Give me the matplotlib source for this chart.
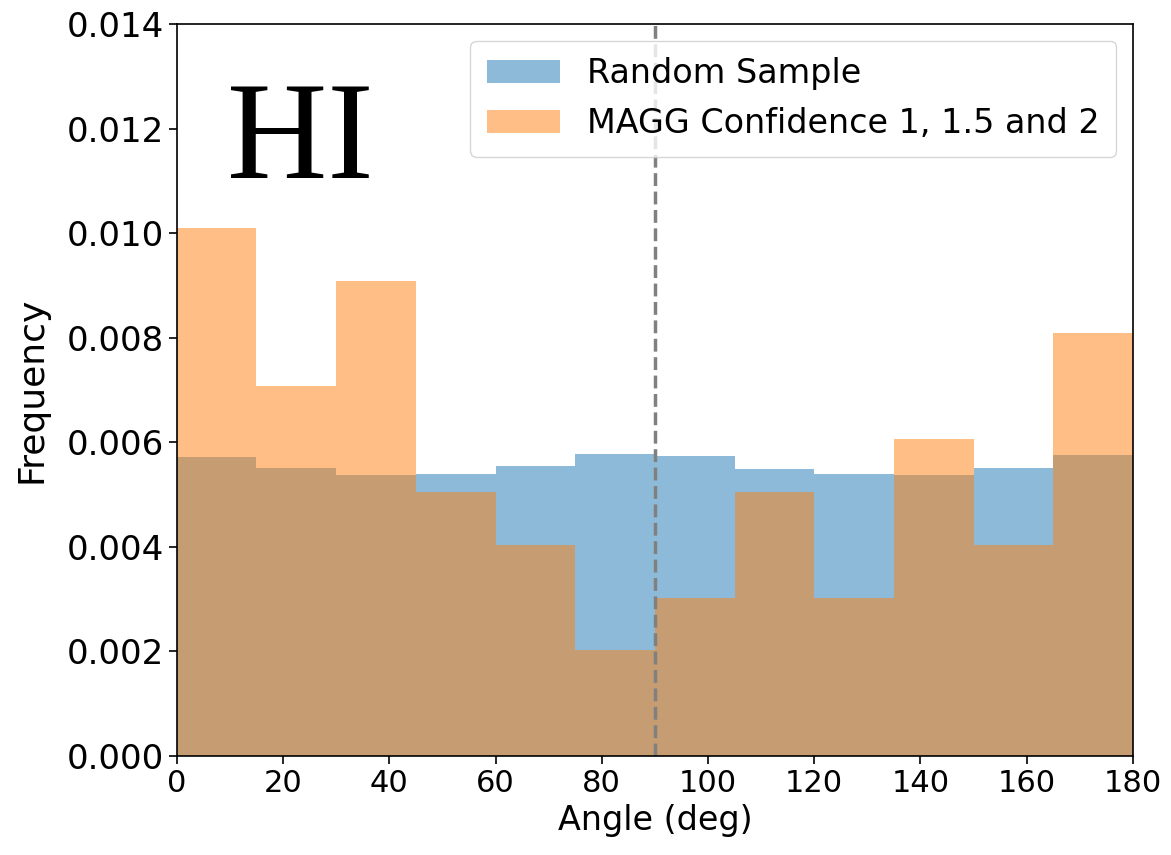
import matplotlib
matplotlib.use("Agg")
import matplotlib.pyplot as plt
import numpy as np

bin_edges = [0, 15, 30, 45, 60, 75, 90, 105, 120, 135, 150, 165, 180]
random_sample = [0.00571, 0.00551, 0.00538, 0.00540, 0.00555, 0.00578,
                 0.00573, 0.00549, 0.00539, 0.00538, 0.00551, 0.00575]
magg_counts = [10, 7, 9, 5, 4, 2, 3, 5, 3, 6, 4, 8]
magg_total = sum(magg_counts)
magg_freq = [c / (magg_total * 15.0) for c in magg_counts]

fig = plt.figure(figsize=(11.71, 8.55), dpi=100)
ax = fig.add_axes([0.151, 0.1158, 0.8165, 0.8562])

centers = np.array(bin_edges[:-1]) + 7.5
ax.hist(centers, bins=bin_edges, weights=random_sample, alpha=0.5,
        color='tab:blue', label='Random Sample')
ax.hist(centers, bins=bin_edges, weights=magg_freq, alpha=0.5,
        color='tab:orange', label='MAGG Confidence 1, 1.5 and 2')
ax.axvline(90, color='gray', linestyle='--', linewidth=2.5)

ax.set_xlim(0, 180)
ax.set_ylim(0, 0.014)
ax.set_xticks(range(0, 181, 20))
ax.set_yticks(np.arange(0, 0.0141, 0.002))
ax.yaxis.set_major_formatter(matplotlib.ticker.FormatStrFormatter('%.3f'))
ax.tick_params(length=6, width=1.2)
ax.tick_params(axis='x', labelsize=22)
ax.tick_params(axis='y', labelsize=24.5)
ax.set_xlabel('Angle (deg)', fontsize=24)
ax.set_ylabel('Frequency', fontsize=26, labelpad=13)
for s in ax.spines.values():
    s.set_linewidth(1.2)

ax.text(9.5, 0.01105, 'HI', family='Liberation Serif', fontsize=100)
ax.legend(loc='upper right', fontsize=24, handlelength=2.2, borderpad=0.5)

fig.savefig('out.png', dpi=100)
